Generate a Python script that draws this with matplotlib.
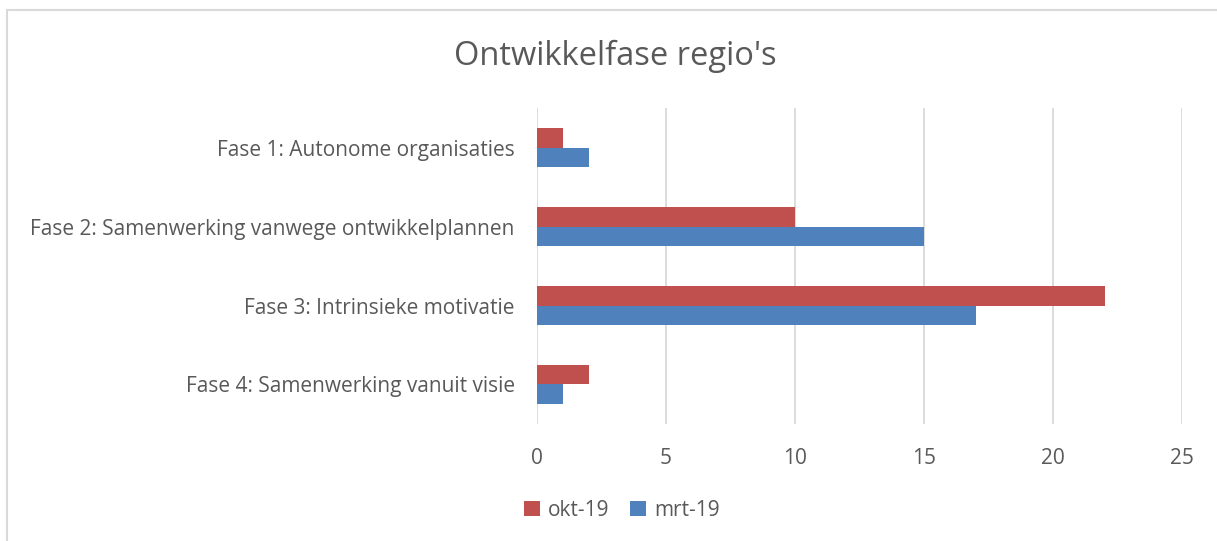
import matplotlib.pyplot as plt
import matplotlib.patches as patches
import numpy as np

plt.rcParams['font.family'] = ['Open Sans', 'DejaVu Sans']

categories = ['Fase 1: Autonome organisaties',
              'Fase 2: Samenwerking vanwege ontwikkelplannen',
              'Fase 3: Intrinsieke motivatie',
              'Fase 4: Samenwerking vanuit visie']
okt19 = [1, 10, 22, 2]
mrt19 = [2, 15, 17, 1]
series = ['okt-19', 'mrt-19']

red = '#C0504D'
blue = '#4F81BD'
txt = '#595959'

fig = plt.figure(figsize=(12.17, 5.41), dpi=100)
ax = fig.add_axes([0.4413, 0.2163, 0.530, 0.584])

y = np.arange(len(categories))
h = 0.25
ax.barh(y - h / 2, okt19, height=h, color=red, label=series[0])
ax.barh(y + h / 2, mrt19, height=h, color=blue, label=series[1])

ax.set_ylim(len(categories) - 0.5, -0.5)
ax.set_xlim(0, 25)
ax.set_xticks([0, 5, 10, 15, 20, 25])
ax.set_yticks(y)
ax.set_yticklabels(categories)
ax.tick_params(axis='both', length=0, labelsize=15, colors=txt)
ax.tick_params(axis='x', pad=17)
ax.tick_params(axis='y', pad=16)
ax.grid(axis='x', color='#D9D9D9', linewidth=1.3)
ax.set_axisbelow(True)
for s in ax.spines.values():
    s.set_visible(False)

fig.text(0.506, 0.895, "Ontwikkelfase regio's", ha='center', va='center',
         fontsize=23.5, color=txt)

handles, labels = ax.get_legend_handles_labels()
fig.legend(handles, labels, loc='center', bbox_to_anchor=(0.511, 0.057), ncol=2,
           frameon=False, fontsize=15, labelcolor=txt, handlelength=0.75,
           handleheight=0.75, columnspacing=1.0, handletextpad=0.4)

border = patches.Rectangle((7 / 1217, -0.1), 1.2, 1 - 10 / 541 + 0.1,
                           transform=fig.transFigure, fill=False,
                           edgecolor='#D9D9D9', linewidth=1.5, clip_on=False)
fig.patches.append(border)

fig.savefig('out.png', dpi=100)
